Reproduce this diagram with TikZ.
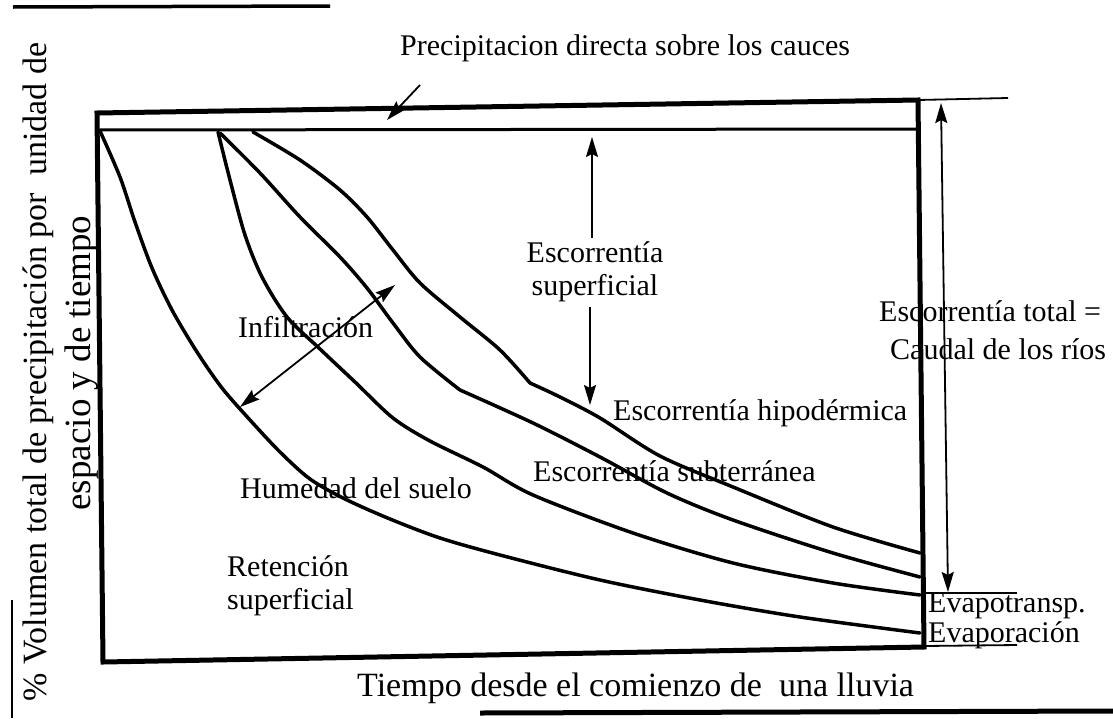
\documentclass[tikz,border=0pt]{standalone}
\usepackage{fontspec}
\setmainfont{Liberation Serif}
\usetikzlibrary{arrows.meta}
\tikzset{>={Stealth[length=20pt,width=12pt,inset=3pt]}}
\tikzset{
  lbl/.style={inner sep=0pt,font=\fontsize{30}{33}\selectfont},
  axlbl/.style={inner sep=0pt,font=\fontsize{34}{38}\selectfont},
  curva/.style={line width=3.5pt,line join=round,line cap=round},
  flecha/.style={line width=1.8pt}
}

\begin{document}
\begin{tikzpicture}[x=1pt,y=-1pt]
  \useasboundingbox (0,0) rectangle (1113,718);
  % bordes del escaneo
  \draw[line width=3.5pt] (13,7) -- (330,6);
  \draw[line width=1.2pt] (12,600) -- (12,718);
  \draw[line width=5pt] (480,713) -- (1113,711);
  % marco
  \draw[line width=5pt,line join=miter] (97,113) -- (918,100) -- (924,647) -- (103,662) -- cycle;
  \draw[line width=3pt] (97,130) -- (918,129);
  \draw[flecha] (918,100) -- (1008,98);
  \draw[flecha] (923,593) -- (1017,593);
  \draw[flecha] (924,646) -- (1017,645);
  % curvas
  \draw[curva] plot[smooth,tension=0.5] coordinates {(100,131) (120,177) (135,222) (152,268) (172,310) (197,352) (222,388) (250,420) (280,452) (310,479) (345,499) (390,519) (440,538) (500,555) (600,580) (700,600) (800,617) (920,633)};
  \draw[curva] plot[smooth,tension=0.5] coordinates {(218,132) (230,180) (245,235) (262,277) (287,317) (320,349) (355,382) (393,418) (430,441) (483,467) (533,495) (633,533) (733,563) (833,583) (920,595)};
  \draw[curva] plot[smooth,tension=0.5] coordinates {(220,133) (260,173) (300,217) (340,257) (367,288) (393,323) (420,357) (460,390)}
    plot[smooth,tension=0.5] coordinates {(460,390) (533,423) (600,457) (667,493) (733,520) (833,553) (920,577)};
  \draw[curva] plot[smooth,tension=0.5] coordinates {(253,132) (300,160) (340,190) (367,217) (393,250) (420,283) (460,317) (500,350) (530,383)}
    plot[smooth,tension=0.5] coordinates {(530,383) (560,397) (600,418) (660,456) (733,487) (833,527) (920,553)};
  % textos
  \node[lbl,anchor=west] (prec) at (400,48) {Precipitacion directa sobre los cauces};
  \node[lbl,align=center] (escsup) at (595,272) {Escorrentía\\superficial};
  \node[lbl,anchor=west] (infil) at (238,327) {Infiltración};
  \node[lbl,anchor=west] (hum) at (240,488) {Humedad del suelo};
  \node[lbl,align=left,anchor=west] (ret) at (227,586) {Retención\\superficial};
  \node[lbl,anchor=west] (hip) at (613,413) {Escorrentía hipodérmica};
  \node[lbl,anchor=west] (sub) at (533,471) {Escorrentía subterránea};
  \node[lbl,anchor=west] (tot) at (879,311) {Escorrentía total =};
  \node[lbl,anchor=west] (caudal) at (890,349) {Caudal de los ríos};
  \node[lbl,anchor=west] (evt) at (928,606) {Evapotransp.};
  \node[lbl,anchor=west] (evp) at (928,635) {Evaporación};
  \node[axlbl,anchor=west] (tiempo) at (357,688) {Tiempo desde el comienzo de\ \ una lluvia};
  \node[axlbl,rotate=90] (vol) at (38,372) {\% Volumen total de precipitación por\ \ unidad de};
  \node[axlbl,rotate=90,font=\fontsize{37}{40}\selectfont] (esp) at (82,363) {espacio y de tiempo};
  % flechas
  \coordinate (p1) at (420,85);
  \coordinate (p2) at (387,120);
  \draw[flecha,->] (p1) -- (p2);
  \coordinate (s1) at (592,238);
  \coordinate (s2) at (592,137);
  \draw[flecha,->] (s1) -- (s2);
  \coordinate (s3) at (590,307);
  \coordinate (s4) at (590,405);
  \draw[flecha,->] (s3) -- (s4);
  \coordinate (i1) at (240,407);
  \coordinate (i2) at (395,285);
  \draw[flecha,<->] (i1) -- (i2);
  \coordinate (t1) at (948,592);
  \coordinate (t2) at (941,103);
  \draw[flecha,<->] (t1) -- (t2);
\end{tikzpicture}
\end{document}
